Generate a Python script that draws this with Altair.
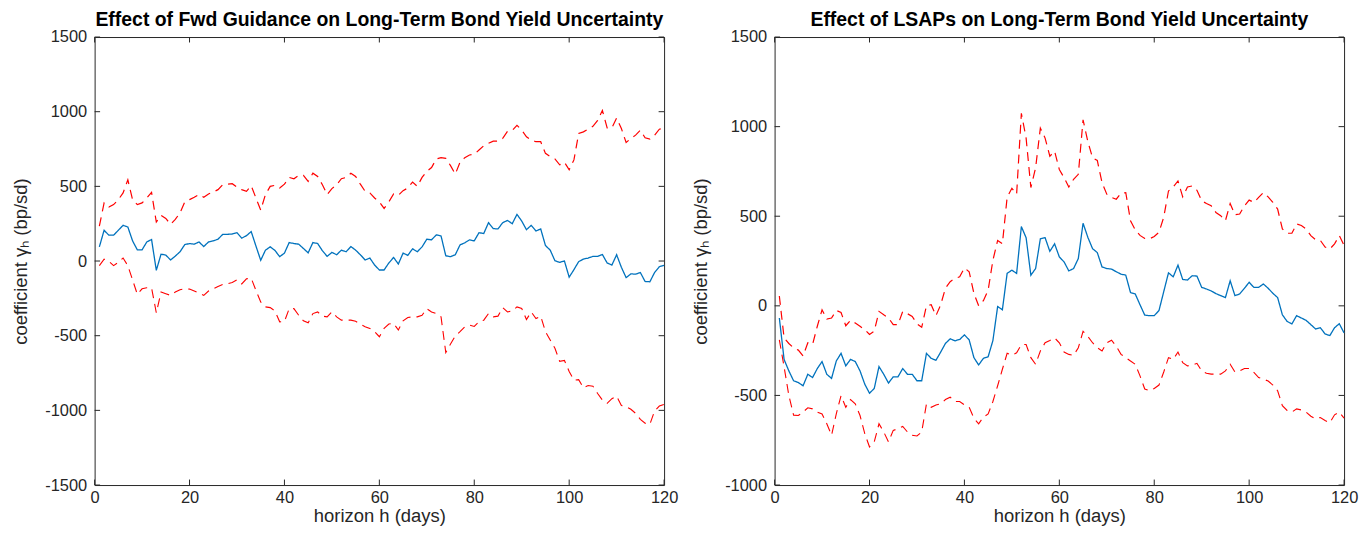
import altair as alt
import pandas as pd

# horizon (days)
h = list(range(1, 121))

# ---- Forward guidance panel ----
fg_est = [95, 206, 173, 173, 206, 239, 228, 135, 75, 75, 128, 144, -62, 46, 40, 7, 33, 62, 110, 117,
          113, 128, 97, 128, 135, 146, 179, 179, 181, 190, 153, 170, 197, 100, 5, 73, 95, 71, 29, 53,
          124, 117, 113, 84, 55, 124, 117, 69, 31, 58, 42, 73, 62, 97, 73, 42, 7, 20, -27, -60,
          -60, -13, 24, -20, 53, 38, 82, 62, 95, 146, 142, 175, 168, 35, 29, 42, 108, 122, 142, 135,
          190, 184, 257, 217, 215, 257, 272, 250, 312, 268, 210, 239, 201, 215, 104, 73, 2, -9, 0, -108,
          -58, -4, 13, 20, 31, 31, 44, -13, -27, 42, -42, -111, -86, -88, -77, -137, -139, -77, -38, -29]
fg_hi = [234, 389, 361, 378, 411, 456, 544, 411, 378, 389, 422, 460, 261, 305, 285, 246, 279, 323, 396, 411,
         427, 445, 427, 449, 462, 478, 511, 515, 518, 495, 478, 467, 504, 422, 341, 445, 500, 507, 489, 515,
         560, 551, 573, 573, 533, 588, 566, 511, 445, 485, 511, 551, 560, 588, 566, 515, 467, 456, 422, 396,
         352, 396, 449, 440, 471, 489, 529, 500, 560, 600, 626, 683, 692, 688, 639, 582, 661, 692, 710, 715,
         743, 772, 788, 803, 803, 821, 869, 874, 909, 876, 832, 810, 799, 799, 721, 699, 684, 644, 661, 611,
         677, 854, 865, 883, 902, 942, 1009, 891, 891, 958, 887, 794, 821, 843, 876, 825, 816, 843, 883, 891]
fg_lo = [-31, 13, -2, -31, -9, 20, -31, -126, -223, -186, -179, -179, -347, -208, -219, -230, -208, -192, -186, -188,
         -201, -215, -230, -201, -186, -170, -157, -153, -144, -126, -153, -119, -115, -197, -274, -307, -312, -334, -407, -405,
         -319, -319, -363, -400, -414, -352, -341, -369, -374, -341, -374, -396, -396, -396, -403, -422, -440, -451, -473, -507,
         -451, -422, -418, -462, -400, -378, -374, -374, -363, -319, -341, -352, -374, -613, -555, -502, -473, -440, -429, -438,
         -407, -396, -352, -374, -369, -312, -341, -334, -307, -318, -392, -341, -385, -369, -473, -529, -584, -672, -666, -739,
         -798, -794, -849, -834, -838, -887, -931, -953, -922, -905, -967, -975, -993, -1020, -1060, -1086, -1093, -1004, -971, -960]

# ---- LSAP panel ----
ls_est = [-68, -299, -363, -418, -428, -446, -382, -400, -350, -311, -382, -405, -308, -265, -335, -299, -311, -363, -437, -488,
          -461, -339, -382, -431, -396, -396, -350, -382, -382, -418, -418, -265, -293, -304, -258, -210, -184, -195, -188, -162,
          -190, -289, -330, -293, -284, -194, -4, -22, 181, 199, 181, 442, 380, 171, 208, 374, 380, 304, 346, 273,
          245, 195, 208, 264, 461, 383, 319, 297, 217, 208, 205, 190, 177, 171, 74, 66, 6, -52, -55, -55,
          -26, 79, 184, 162, 227, 147, 144, 168, 166, 103, 94, 83, 68, 57, 46, 140, 57, 66, 98, 131,
          103, 103, 122, 98, 70, 46, -50, -87, -101, -55, -68, -81, -105, -129, -122, -157, -166, -122, -100, -151]
ls_hi = [55, -179, -210, -234, -247, -280, -206, -216, -114, -22, -74, -68, -26, -37, -111, -81, -96, -114, -133, -160,
         -142, -31, -50, -68, -105, -105, -31, -44, -59, -100, -120, 0, 6, -55, 6, 98, 135, 153, 162, 212,
         190, 70, 0, 29, 88, 254, 365, 346, 605, 656, 623, 1074, 936, 660, 770, 992, 936, 835, 863, 761,
         715, 663, 706, 734, 1038, 918, 826, 811, 687, 623, 605, 595, 628, 632, 475, 424, 393, 376, 374, 387,
         411, 494, 641, 663, 697, 608, 663, 669, 645, 586, 571, 558, 521, 503, 475, 571, 508, 512, 558, 590,
         577, 605, 632, 608, 577, 540, 429, 405, 405, 457, 448, 429, 392, 369, 365, 328, 317, 346, 392, 337]
ls_lo = [-190, -340, -500, -610, -612, -593, -569, -575, -593, -603, -658, -722, -603, -501, -566, -523, -547, -612, -713, -787,
         -759, -658, -704, -759, -695, -686, -673, -704, -722, -726, -704, -547, -566, -553, -547, -523, -510, -534, -534, -553,
         -566, -627, -658, -621, -603, -534, -446, -354, -265, -276, -262, -216, -216, -289, -326, -252, -206, -194, -179, -206,
         -258, -271, -276, -234, -142, -170, -206, -234, -252, -206, -192, -225, -271, -289, -308, -326, -391, -464, -474, -461,
         -442, -369, -289, -299, -258, -317, -335, -332, -321, -363, -376, -381, -381, -381, -363, -326, -369, -363, -350, -350,
         -372, -400, -409, -420, -442, -474, -557, -584, -593, -575, -581, -593, -616, -630, -623, -640, -652, -608, -593, -627]

x_ticks = [0, 20, 40, 60, 80, 100, 120]
fg_yticks = [-1500, -1000, -500, 0, 500, 1000, 1500]
ls_yticks = [-1000, -500, 0, 500, 1000, 1500]

titles = ["Effect of Fwd Guidance on Long-Term Bond Yield Uncertainty",
          "Effect of LSAPs on Long-Term Bond Yield Uncertainty"]

W, H = 572, 450
FONT = "Liberation Sans"
AX = "#262626"
TL = 5.5


def panel(est, hi, lo, ydom, yticks, title):
    df = pd.DataFrame({"h": h * 3,
                       "val": est + hi + lo,
                       "series": ["est"] * len(h) + ["hi"] * len(h) + ["lo"] * len(h)})
    xs = alt.Scale(domain=[0, 120], nice=False, zero=False)
    ys = alt.Scale(domain=ydom, nice=False, zero=False)
    xax = alt.Axis(values=x_ticks, title="horizon h (days)", ticks=False, domain=False,
                   grid=False, labelPadding=5, titlePadding=0, labelFlush=False,
                   labelExpr="'' + datum.value")
    yax = alt.Axis(values=yticks, title="coefficient γₕ (bp/sd)", ticks=False, domain=False,
                   grid=False, labelPadding=8, titlePadding=12, minExtent=52, maxExtent=52,
                   labelExpr="'' + datum.value")
    lines = alt.Chart(df).mark_line().encode(
        x=alt.X("h:Q", scale=xs, axis=xax),
        y=alt.Y("val:Q", scale=ys, axis=yax),
        color=alt.Color("series:N", scale=alt.Scale(domain=["est", "hi", "lo"],
                                                     range=["#0072BD", "#FF0000", "#FF0000"]), legend=None),
        strokeDash=alt.StrokeDash("series:N", scale=alt.Scale(domain=["est", "hi", "lo"],
                                                               range=[[1, 0], [9, 6], [9, 6]]), legend=None),
        strokeWidth=alt.StrokeWidth("series:N", scale=alt.Scale(domain=["est", "hi", "lo"],
                                                                 range=[1.3, 1.1, 1.1]), legend=None),
        detail="series:N",
    )
    xt = pd.DataFrame({"t": x_ticks})
    yt = pd.DataFrame({"t": yticks})
    bot = alt.Chart(xt).mark_rule(color=AX, strokeWidth=1).encode(
        x=alt.X("t:Q", scale=xs, axis=xax), y=alt.value(H), y2=alt.value(H - TL))
    top = alt.Chart(xt).mark_rule(color=AX, strokeWidth=1).encode(
        x=alt.X("t:Q", scale=xs, axis=xax), y=alt.value(0), y2=alt.value(TL))
    left = alt.Chart(yt).mark_rule(color=AX, strokeWidth=1).encode(
        y=alt.Y("t:Q", scale=ys, axis=yax), x=alt.value(0), x2=alt.value(TL))
    right = alt.Chart(yt).mark_rule(color=AX, strokeWidth=1).encode(
        y=alt.Y("t:Q", scale=ys, axis=yax), x=alt.value(W), x2=alt.value(W - TL))
    return alt.layer(lines, bot, top, left, right).properties(
        width=W, height=H,
        title=alt.TitleParams(title, fontSize=19.5, fontWeight="bold", font=FONT, color="#000000",
                              anchor="middle", offset=-1.5),
    )


p1 = panel(fg_est, fg_hi, fg_lo, [-1500, 1500], fg_yticks, titles[0])
p2 = panel(ls_est, ls_hi, ls_lo, [-1000, 1500], ls_yticks, titles[1])

chart = alt.hconcat(p1, p2, spacing=12).properties(
    padding={"left": 3, "top": 0, "right": 0, "bottom": 0},
    background="white",
).configure_view(
    stroke=AX, strokeWidth=1
).configure_axis(
    labelFont=FONT, titleFont=FONT, labelFontSize=16.5, titleFontSize=18.5,
    labelColor=AX, titleColor=AX, titleFontWeight="normal"
)

chart.save("out.html", embed_options={"renderer": "svg", "actions": False})
